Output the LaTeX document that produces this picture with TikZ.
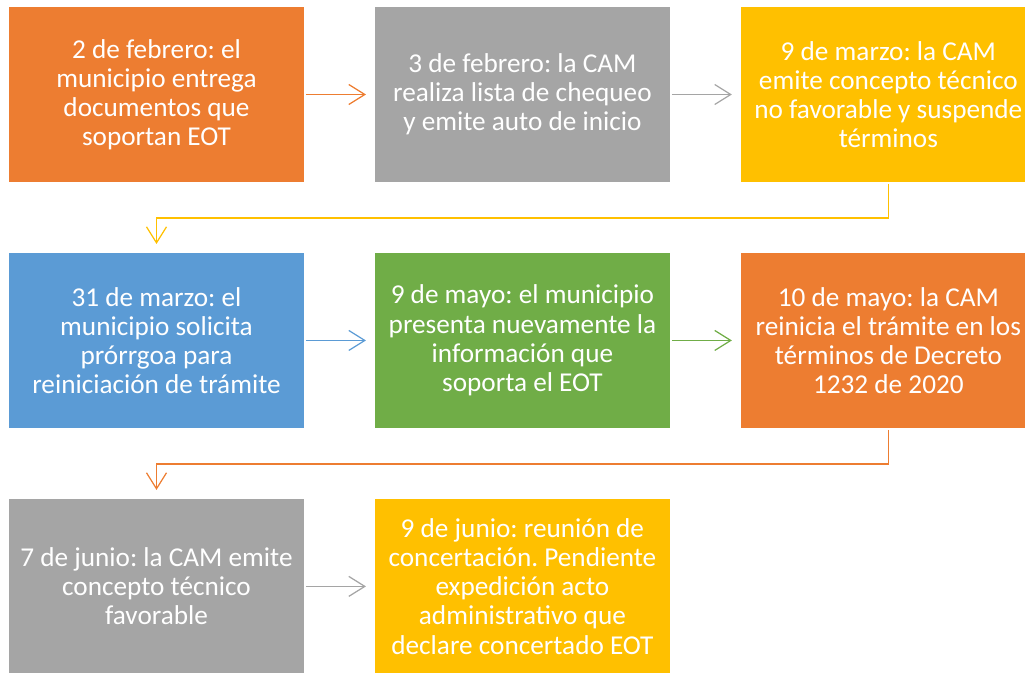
\documentclass[tikz,border=0pt]{standalone}
\usepackage{fontspec}
\setmainfont{Carlito}
\usetikzlibrary{arrows.meta,positioning}
\frenchspacing

\definecolor{naranja}{HTML}{ED7D31}
\definecolor{gris}{HTML}{A5A5A5}
\definecolor{amarillo}{HTML}{FFC000}
\definecolor{azul}{HTML}{5B9BD5}
\definecolor{verde}{HTML}{70AD47}

\begin{document}
\begin{tikzpicture}[x=0.02cm,y=-0.02cm,
    node distance=1.42cm and 1.42cm,
    caja/.style={minimum width=5.9cm, minimum height=3.5cm, inner sep=0pt,
      outer sep=0pt, align=center, text=white,
      font=\fontsize{15.5pt}{16.6pt}\selectfont},
    flecha/.style={line width=0.7pt, -{Straight Barb[length=0.32cm,width=0.4cm]},
      shorten <=0.04cm, shorten >=0.18cm}]

  \path[use as bounding box, clip] (0,0) rectangle (1025,673);

  % fila 1
  \node[caja, fill=naranja] (feb2) at (156.5,94.5)
    {2 de febrero: el\\municipio entrega\\documentos que\\soportan EOT};
  \node[caja, fill=gris, right=of feb2] (feb3)
    {3 de febrero: la CAM\\realiza lista de chequeo\\y emite auto de inicio};
  \node[caja, fill=amarillo, right=of feb3] (mar9)
    {9 de marzo: la CAM\\emite concepto técnico\\no favorable y suspende\\términos};

  % fila 2
  \node[caja, fill=azul, below=of feb2] (mar31)
    {31 de marzo: el\\municipio solicita\\prórrgoa para\\reiniciación de trámite};
  \node[caja, fill=verde, right=of mar31] (may9)
    {9 de mayo: el municipio\\presenta nuevamente la\\información que\\soporta el EOT};
  \node[caja, fill=naranja, right=of may9] (may10)
    {10 de mayo: la CAM\\reinicia el trámite en los\\términos de Decreto\\1232 de 2020};

  % fila 3
  \node[caja, fill=gris, below=of mar31] (jun7)
    {7 de junio: la CAM emite\\concepto técnico\\favorable};
  \node[caja, fill=amarillo, right=of jun7] (jun9)
    {9 de junio: reunión de\\concertación. Pendiente\\expedición acto\\administrativo que\\declare concertado EOT};

  % conectores
  \draw[flecha, naranja] (feb2) -- (feb3);
  \draw[flecha, gris] (feb3) -- (mar9);
  \draw[flecha, amarillo] (mar9.south) -- ++(0,36) -| (mar31.north);
  \draw[flecha, azul] (mar31) -- (may9);
  \draw[flecha, verde] (may9) -- (may10);
  \draw[flecha, naranja] (may10.south) -- ++(0,36) -| (jun7.north);
  \draw[flecha, gris] (jun7) -- (jun9);
\end{tikzpicture}
\end{document}
